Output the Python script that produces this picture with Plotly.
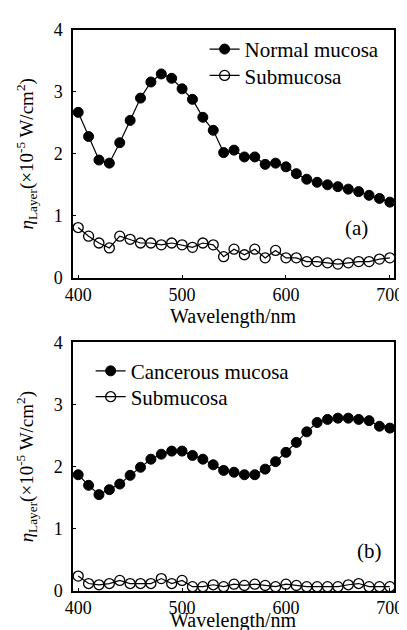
import plotly.graph_objects as go

wavelength = list(range(400, 701, 10))

normal_mucosa = [2.67, 2.28, 1.90, 1.85, 2.18, 2.54, 2.90, 3.16, 3.29, 3.22,
                 3.05, 2.88, 2.59, 2.38, 2.02, 2.06, 1.95, 1.95, 1.83, 1.85,
                 1.79, 1.68, 1.59, 1.54, 1.50, 1.47, 1.43, 1.39, 1.33, 1.28, 1.22]
submucosa_a = [0.81, 0.67, 0.56, 0.48, 0.67, 0.62, 0.56, 0.56, 0.53, 0.56,
               0.53, 0.49, 0.56, 0.53, 0.34, 0.46, 0.37, 0.46, 0.32, 0.44,
               0.32, 0.32, 0.26, 0.26, 0.24, 0.22, 0.24, 0.26, 0.26, 0.30, 0.32]
cancerous_mucosa = [1.87, 1.70, 1.55, 1.63, 1.72, 1.86, 1.99, 2.12, 2.20, 2.25,
                    2.25, 2.18, 2.12, 2.03, 1.94, 1.91, 1.87, 1.87, 1.96, 2.08,
                    2.23, 2.39, 2.56, 2.71, 2.76, 2.78, 2.78, 2.76, 2.74, 2.65, 2.62]
submucosa_b = [0.24, 0.12, 0.10, 0.12, 0.17, 0.12, 0.12, 0.12, 0.20, 0.12,
               0.17, 0.07, 0.07, 0.10, 0.07, 0.11, 0.09, 0.11, 0.09, 0.07,
               0.11, 0.09, 0.07, 0.07, 0.07, 0.07, 0.10, 0.12, 0.07, 0.07, 0.07]

x_ticks = [400, 500, 600, 700]
y_ticks = [0, 1, 2, 3, 4]

FONT = "Liberation Serif"
TICK_SIZE = 18
TITLE_SIZE = 20
LEGEND_SIZE = 21
filled = dict(symbol="circle", size=10, color="black", line=dict(color="black", width=1))
hollow = dict(symbol="circle-open", size=10, color="black", line=dict(color="black", width=1.3))
line = dict(color="black", width=1.2)

fig = go.Figure()
fig.add_trace(go.Scatter(x=wavelength, y=normal_mucosa, mode="lines+markers", name="Normal mucosa",
                         marker=filled, line=line, xaxis="x", yaxis="y", legend="legend"))
fig.add_trace(go.Scatter(x=wavelength, y=submucosa_a, mode="lines+markers", name="Submucosa",
                         marker=hollow, line=line, xaxis="x", yaxis="y", legend="legend2"))
fig.add_trace(go.Scatter(x=wavelength, y=cancerous_mucosa, mode="lines+markers", name="Cancerous mucosa",
                         marker=filled, line=line, xaxis="x2", yaxis="y2", legend="legend3"))
fig.add_trace(go.Scatter(x=wavelength, y=submucosa_b, mode="lines+markers", name="Submucosa",
                         marker=hollow, line=line, xaxis="x2", yaxis="y2", legend="legend4"))

ytitle = "<i>η</i><sub>Layer</sub>(×10<sup>-5</sup> W/cm<sup>2</sup>)"

axis_common = dict(showline=True, linecolor="black", linewidth=1.5, mirror=True,
                   ticks="inside", ticklen=3, tickcolor="black", showgrid=False, zeroline=False,
                   tickfont=dict(family=FONT, size=TICK_SIZE, color="black"))
yaxis_common = dict(range=[0, 4], tickvals=y_ticks, ticklabelstandoff=5,
                    title=dict(text=ytitle, font=dict(family=FONT, size=19), standoff=15),
                    **axis_common)
xaxis_common = dict(range=[395, 704], tickvals=x_ticks, **axis_common)


def legend_at(x, y):
    return dict(x=x, y=y, xanchor="left", yanchor="middle", bgcolor="rgba(0,0,0,0)",
                font=dict(family=FONT, size=LEGEND_SIZE), itemwidth=30)


fig.update_layout(
    width=407, height=630,
    margin=dict(l=65, r=12, t=19, b=47),
    paper_bgcolor="white", plot_bgcolor="white",
    font=dict(family=FONT, color="black"),
    showlegend=True,
    xaxis=dict(domain=[0, 1], anchor="y", **xaxis_common),
    yaxis=dict(domain=[0.5585, 1], anchor="x", **yaxis_common),
    xaxis2=dict(domain=[0, 1], anchor="y2", **xaxis_common),
    yaxis2=dict(domain=[0, 0.4433], anchor="x2", **yaxis_common),
    legend=legend_at(0.41, 0.9654),
    legend2=legend_at(0.41, 0.9184),
    legend3=legend_at(0.055, 0.3918),
    legend4=legend_at(0.055, 0.3457),
    annotations=[
        dict(text="Wavelength/nm", x=0.5, y=0.4894, xref="paper", yref="paper",
             xanchor="center", yanchor="middle", showarrow=False,
             font=dict(family=FONT, size=TITLE_SIZE)),
        dict(text="Wavelength/nm", x=0.5, y=-0.0532, xref="paper", yref="paper",
             xanchor="center", yanchor="middle", showarrow=False,
             font=dict(family=FONT, size=TITLE_SIZE)),
        dict(text="(a)", x=668, y=0.8, xref="x", yref="y", showarrow=False,
             font=dict(family=FONT, size=LEGEND_SIZE)),
        dict(text="(b)", x=680, y=0.64, xref="x2", yref="y2", showarrow=False,
             font=dict(family=FONT, size=LEGEND_SIZE)),
    ],
)

fig.write_html("out.html")
